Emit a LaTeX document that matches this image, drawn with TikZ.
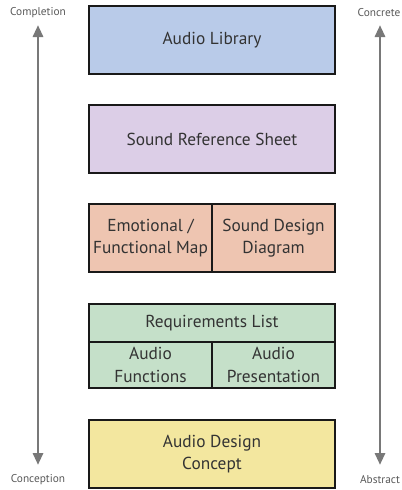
\documentclass[tikz,border=0pt]{standalone}
\usepackage{fontspec}
\setmainfont{PT Sans}
\usetikzlibrary{arrows.meta}

\definecolor{libblue}{RGB}{185,203,233}
\definecolor{refpurple}{RGB}{220,206,231}
\definecolor{mapsalmon}{RGB}{238,197,177}
\definecolor{reqgreen}{RGB}{197,224,201}
\definecolor{conyellow}{RGB}{243,231,159}
\definecolor{scalegray}{RGB}{120,120,120}

\tikzset{every picture/.style={line width=0.75pt}}
\tikzset{
	docbox/.style={draw=black!90, line width=1.4pt, inner sep=0pt, align=center,
		font=\fontsize{13}{17}\selectfont, text=black!80},
	fullbox/.style={docbox, minimum width=184.5pt, minimum height=51pt},
	halfbox/.style={docbox, minimum width=92.25pt},
	scalelabel/.style={font=\fontsize{8.5}{9}\selectfont, text=black!65},
	scalearrow/.style={draw=scalegray, line width=2.2pt, {Triangle[length=9pt,width=7.5pt]}-{Triangle[length=9pt,width=7.5pt]}},
}

\begin{document}
\begin{tikzpicture}[x=0.75pt,y=0.75pt,yscale=-1,xscale=1]
	\useasboundingbox (0,0) rectangle (402,490);
	
	%Shape: Audio Library
	\node[fullbox, fill=libblue] (library) at (212,40) {Audio Library};
	%Shape: Sound Reference Sheet
	\node[fullbox, fill=refpurple] (refsheet) at (212,139) {Sound Reference Sheet};
	
	%Shape: Emotional / Functional Map and Sound Design Diagram
	\node[halfbox, fill=mapsalmon, minimum height=51pt] (emomap) at (150.5,238) {Emotional /\\Functional Map};
	\node[halfbox, fill=mapsalmon, minimum height=51pt] (sddiagram) at (273.5,238) {Sound Design\\Diagram};
	
	%Shape: Requirements List
	\node[fullbox, fill=reqgreen, minimum height=28.5pt] (reqlist) at (212,323) {Requirements List};
	\node[halfbox, fill=reqgreen, minimum height=34.5pt] (audiofunc) at (150.5,365) {Audio\\Functions};
	\node[halfbox, fill=reqgreen, minimum height=34.5pt] (audiopres) at (273.5,365) {Audio\\Presentation};
	
	%Shape: Audio Design Concept
	\node[fullbox, fill=conyellow] (concept) at (212,454) {Audio Design\\Concept};
	
	%Straight Lines: Conception -- Completion
	\coordinate (compTop) at (38,25);
	\coordinate (compBot) at (38,465);
	\draw[scalearrow] (compBot) -- (compTop);
	%Straight Lines: Abstract -- Concrete
	\coordinate (concTop) at (380,25);
	\coordinate (concBot) at (380,465);
	\draw[scalearrow] (concBot) -- (concTop);
	
	% Text Node
	\node[scalelabel] (completion) at (38,13) {Completion};
	% Text Node
	\node[scalelabel] (conception) at (38,480) {Conception};
	% Text Node
	\node[scalelabel] (concrete) at (379,13) {Concrete};
	% Text Node
	\node[scalelabel] (abstract) at (380,480) {Abstract};
	
\end{tikzpicture}
\end{document}
